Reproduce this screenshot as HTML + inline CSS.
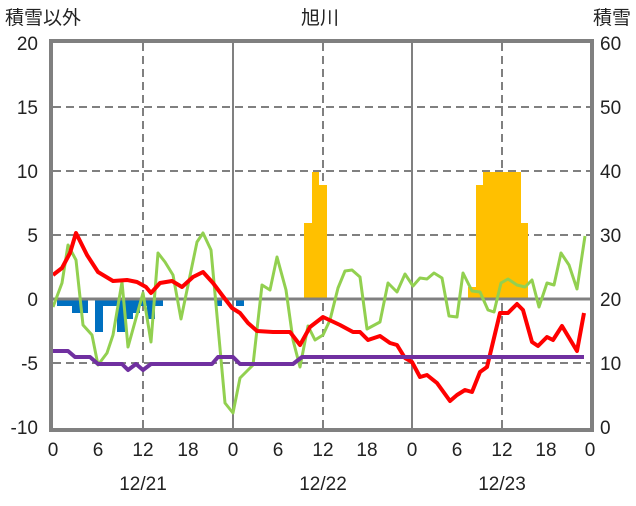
<!DOCTYPE html>
<html><head><meta charset="utf-8"><style>
body{margin:0;background:#fff;}
svg text{font-family:"Liberation Sans","Noto Sans CJK JP",sans-serif;font-size:19px;fill:#222;}
</style></head><body>
<svg width="636" height="501" viewBox="0 0 636 501" xmlns="http://www.w3.org/2000/svg">
<rect width="636" height="501" fill="#fff"/>
<g stroke="#808080" stroke-width="2" stroke-dasharray="8,5">
<line x1="53" y1="107" x2="590" y2="107"/>
<line x1="53" y1="171" x2="590" y2="171"/>
<line x1="53" y1="235" x2="590" y2="235"/>
<line x1="53" y1="363" x2="590" y2="363"/>
<line x1="143" y1="43" x2="143" y2="428"/>
<line x1="323" y1="43" x2="323" y2="428"/>
<line x1="502" y1="43" x2="502" y2="428"/>
</g>
<g stroke="#808080" stroke-width="2">
<line x1="233" y1="43" x2="233" y2="428"/>
<line x1="412" y1="43" x2="412" y2="428"/>
</g>
<g fill="#FFC000">
<rect x="304" y="223" width="8" height="76"/>
<rect x="312" y="172" width="7" height="127"/>
<rect x="319" y="185" width="8" height="114"/>
<rect x="468" y="287" width="8" height="12"/>
<rect x="476" y="185" width="7" height="114"/>
<rect x="483" y="172" width="38" height="127"/>
<rect x="521" y="223" width="7" height="76"/>
</g>
<g fill="#0070C0">
<rect x="57" y="299" width="15" height="7"/>
<rect x="72" y="299" width="16" height="14"/>
<rect x="95" y="299" width="8" height="33"/>
<rect x="103" y="299" width="14" height="7"/>
<rect x="117" y="299" width="8" height="33"/>
<rect x="125" y="299" width="8" height="20"/>
<rect x="133" y="299" width="7" height="14"/>
<rect x="140" y="299" width="7" height="7"/>
<rect x="147" y="299" width="8" height="20"/>
<rect x="155" y="299" width="8" height="7"/>
<rect x="215" y="299" width="7" height="7"/>
<rect x="236" y="299" width="8" height="7"/>
</g>
<line x1="53" y1="299" x2="590" y2="299" stroke="#808080" stroke-width="3"/>
<polyline fill="none" stroke="#92D050" stroke-width="3" stroke-linejoin="round" points="53,307 62,283 68,245 76,260 83,325 92,335 98,365 107,353 113,335 122,282 128,347 143,293 151,342 158,253 165,262 173,275 181,319 197,242 203,233 211,250 225,403 233,413 240,378 253,365 262,285 270,290 277,257 286,290 293,340 300,367 308,326 315,340 323,335 330,320 338,288 345,271 352,270 360,277 367,329 380,322 388,283 397,292 405,274 413,286 420,278 427,279 434,273 442,278 449,316 457,317 463,273 472,291 480,292 488,310 494,312 501,283 508,279 517,285 525,287 532,280 539,307 547,283 554,285 561,253 569,265 577,289 585,236"/>
<polyline fill="none" stroke="#FF0000" stroke-width="4" stroke-linejoin="round" points="53,275 62,268 70,253 76,233 87,255 98,272 113,281 127,280 137,282 146,287 151,293 160,283 172,281 182,287 193,277 203,272 213,283 222,295 232,308 240,313 248,323 257,331 273,332 290,332 300,345 310,327 323,317 340,325 353,332 360,332 368,340 380,336 390,343 397,345 405,358 412,362 420,377 427,375 437,383 450,401 457,395 465,390 472,392 480,372 487,367 500,313 508,313 517,304 523,310 532,342 538,346 547,337 553,340 562,326 577,351 584,313"/>
<polyline fill="none" stroke="#7030A0" stroke-width="4" stroke-linejoin="round" points="53,351 68,351 75,357 90,357 98,364 122,364 128,370 136,364 143,370 151,364 212,364 218,357 233,357 240,364 293,364 302,357 584,357"/>
<rect x="51" y="41" width="541" height="389" fill="none" stroke="#808080" stroke-width="4"/>
<text x="5" y="24">積雪以外</text>
<text x="320" y="24" text-anchor="middle">旭川</text>
<text x="631" y="24" text-anchor="end">積雪</text>
<g text-anchor="end">
<text x="38" y="50">20</text><text x="38" y="114">15</text><text x="38" y="178">10</text>
<text x="38" y="242">5</text><text x="38" y="306">0</text><text x="38" y="370">-5</text><text x="38" y="434">-10</text>
</g>
<g text-anchor="start">
<text x="600" y="50">60</text><text x="600" y="114">50</text><text x="600" y="178">40</text>
<text x="600" y="242">30</text><text x="600" y="306">20</text><text x="600" y="370">10</text><text x="600" y="434">0</text>
</g>
<g text-anchor="middle">
<text x="53" y="456">0</text><text x="98" y="456">6</text><text x="143" y="456">12</text><text x="188" y="456">18</text>
<text x="233" y="456">0</text><text x="278" y="456">6</text><text x="323" y="456">12</text><text x="367" y="456">18</text>
<text x="412" y="456">0</text><text x="457" y="456">6</text><text x="502" y="456">12</text><text x="546" y="456">18</text>
<text x="590" y="456">0</text>
<text x="143" y="490">12/21</text><text x="323" y="490">12/22</text><text x="502" y="490">12/23</text>
</g>
</svg>
</body></html>
